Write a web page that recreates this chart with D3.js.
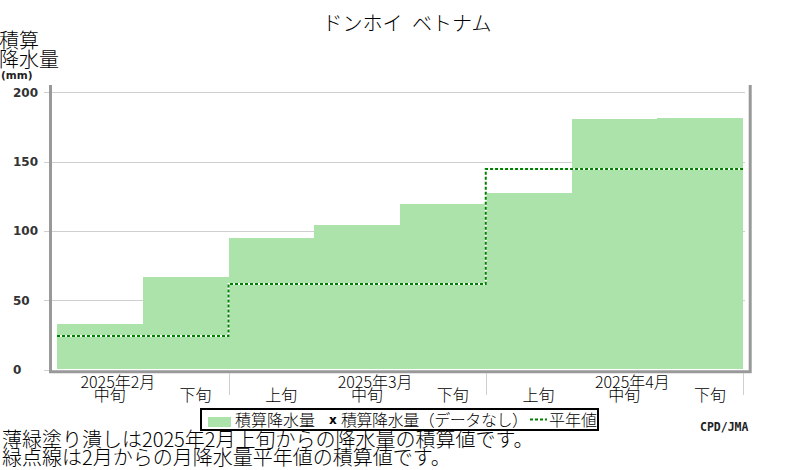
<!DOCTYPE html>
<html><head><meta charset="utf-8">
<script src="https://cdn.jsdelivr.net/npm/d3@7"></script>
<style>
html,body{margin:0;padding:0;background:#fff;}
svg{display:block;}
.jp{font-family:"Noto Sans CJK JP","Noto Sans",sans-serif;font-weight:300;fill:#000;}
</style></head>
<body>
<svg id="c" width="800" height="470"></svg>
<script>
// ---- data ----
const monthLabels = ["2025年2月", "2025年3月", "2025年4月"];
const periodLabels = ["中旬", "下旬", "上旬", "中旬", "下旬", "上旬", "中旬", "下旬"];
const periodMonth = [0, 0, 1, 1, 1, 2, 2, 2];
const accumPrecip = [32.9, 66.8, 94.9, 104.3, 119.4, 127.3, 180.9, 181.6];
const normalAccum = [24.2, 61.7, 144.6];
const yTicks = [0, 50, 100, 150, 200];
const titleText = "ドンホイ ベトナム";
const noteLines = ["薄緑塗り潰しは2025年2月上旬からの降水量の積算値です。",
                   "緑点線は2月からの月降水量平年値の積算値です。"];

// ---- chart ----
const svg = d3.select("#c");
const x = d3.scaleBand().domain(d3.range(periodLabels.length)).range([57, 743]).padding(0);
const y = d3.scaleLinear().domain([0, 200]).range([369.6, 92.3]);
const bw = x.bandwidth();
const cr = v => Math.round(v) + 0.5;

// title
svg.append("text").attr("class", "jp").attr("x", 407).attr("y", 31)
  .attr("text-anchor", "middle").style("font-size", "20px").style("word-spacing", "5px")
  .text(titleText);

// y title
svg.append("text").attr("class", "jp").attr("x", -1).attr("y", 47.5).style("font-size", "20px").text("積算");
svg.append("text").attr("class", "jp").attr("x", -1).attr("y", 67).style("font-size", "20px").text("降水量");
svg.append("text").attr("x", 1).attr("y", 78.5)
  .style("font-family", "DejaVu Sans").style("font-weight", "bold").style("font-size", "10.5px")
  .style("fill", "#222").text("(mm)");

// gridlines + ticks
const g = svg.append("g").attr("shape-rendering", "crispEdges");
g.selectAll("line.grid").data(yTicks.filter(d => d > 0)).join("line").attr("class", "grid")
  .attr("x1", 52).attr("x2", 745).attr("y1", d => cr(y(d))).attr("y2", d => cr(y(d)))
  .attr("stroke", "#cfcfcf").attr("stroke-width", 1);
g.selectAll("line.tick").data(yTicks).join("line").attr("class", "tick")
  .attr("x1", 44).attr("x2", 49).attr("y1", d => cr(y(d))).attr("y2", d => cr(y(d)))
  .attr("stroke", "#cfcfcf").attr("stroke-width", 1);
svg.selectAll("text.yt").data(yTicks).join("text").attr("class", "yt")
  .attr("x", 13).attr("y", d => y(d) + 4.5)
  .style("font-family", "DejaVu Sans").style("font-weight", "bold").style("font-size", "12px")
  .style("fill", "#333").text(d => d);

// bars
svg.selectAll("rect.bar").data(accumPrecip).join("rect").attr("class", "bar")
  .attr("x", (d, i) => x(i)).attr("width", bw)
  .attr("y", d => y(d)).attr("height", d => y(0) - 0.7 - y(d))
  .attr("fill", "#abe3ab").attr("shape-rendering", "crispEdges");

// normal step line
const pts = normalAccum.map((n, m) => {
  const first = periodMonth.indexOf(m);
  return [x(first), y(n)];
});
const lastM = normalAccum.length - 1;
pts.push([x(periodMonth.lastIndexOf(lastM)) + bw, y(normalAccum[lastM])]);
const stepLine = d3.line().curve(d3.curveStepAfter);
svg.append("path").attr("d", stepLine(pts)).attr("fill", "none")
  .attr("stroke", "#fff").attr("stroke-width", 2);
svg.append("path").attr("d", stepLine(pts)).attr("fill", "none")
  .attr("stroke", "#008000").attr("stroke-width", 2).attr("stroke-dasharray", "3,2");

// frame
svg.append("path").attr("d", "M50.5,85V371.7H750.2V85").attr("fill", "none")
  .attr("stroke", "#999").attr("stroke-width", 3);

// month separators
const sepX = monthLabels.map((m, k) => Math.round(x(periodMonth.lastIndexOf(k)) + bw) + 0.5);
svg.selectAll("line.sep").data(sepX).join("line").attr("class", "sep")
  .attr("x1", d => d).attr("x2", d => d).attr("y1", 373).attr("y2", 395)
  .attr("stroke", "#cfcfcf").attr("stroke-width", 1).attr("shape-rendering", "crispEdges");

// period labels
svg.selectAll("text.pl").data(periodLabels).join("text").attr("class", "jp pl")
  .attr("x", (d, i) => x(i) + bw / 2 + 10).attr("y", 401)
  .attr("text-anchor", "middle").style("font-size", "16px").text(d => d);
// month labels (above the 中旬 label)
svg.selectAll("text.ml").data(monthLabels).join("text").attr("class", "jp ml")
  .attr("x", (d, k) => {
    const idx = periodLabels.findIndex((p, i) => periodMonth[i] === k && p === "中旬");
    return x(idx) + bw / 2 + 18;
  }).attr("y", 388)
  .attr("text-anchor", "middle").style("font-size", "16px").text(d => d);

// legend
svg.append("rect").attr("x", 201).attr("y", 409).attr("width", 397).attr("height", 21)
  .attr("fill", "#fff").attr("stroke", "#000").attr("stroke-width", 2);
svg.append("rect").attr("x", 208).attr("y", 417).attr("width", 23).attr("height", 10).attr("fill", "#abe3ab");
svg.append("text").attr("class", "jp").attr("x", 235).attr("y", 426).style("font-size", "16px")
  .text("積算降水量");
svg.append("text").attr("x", 329).attr("y", 424)
  .style("font-family", "DejaVu Sans").style("font-weight", "bold").style("font-size", "12px").text("x");
svg.append("text").attr("class", "jp").attr("x", 341).attr("y", 426).style("font-size", "16px")
  .attr("textLength", 187).attr("lengthAdjust", "spacing").text("積算降水量（データなし）");
svg.append("line").attr("x1", 530).attr("x2", 547).attr("y1", 419.5).attr("y2", 419.5)
  .attr("stroke", "#008000").attr("stroke-width", 2).attr("stroke-dasharray", "3,2");
svg.append("text").attr("class", "jp").attr("x", 549).attr("y", 426).style("font-size", "16px")
  .text("平年値");

// credit
svg.append("text").attr("x", 700).attr("y", 431)
  .style("font-family", "DejaVu Sans Mono").style("font-weight", "bold").style("font-size", "11.5px")
  .style("fill", "#222").text("CPD/JMA");

// notes
svg.selectAll("text.note").data(noteLines).join("text").attr("class", "jp note")
  .attr("x", 2).attr("y", (d, i) => 447 + i * 18).style("font-size", "20px").text(d => d);
</script>
</body></html>
